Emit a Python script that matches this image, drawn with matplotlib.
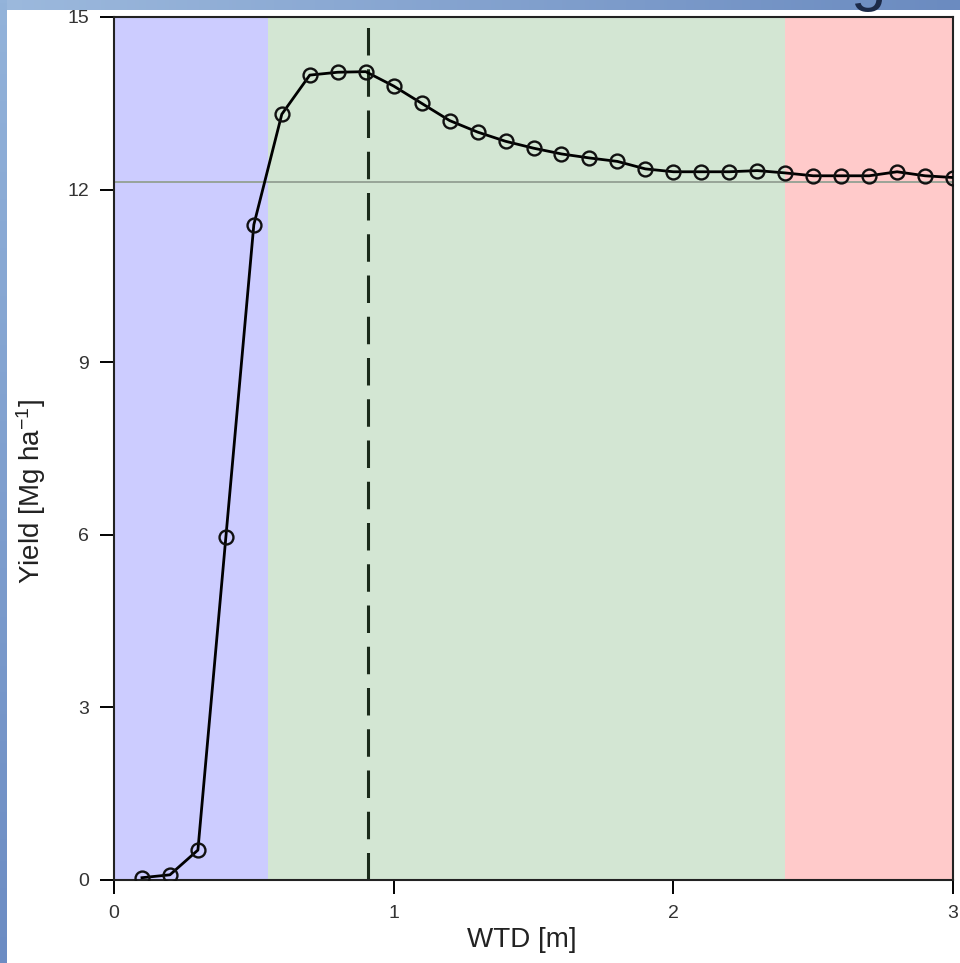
import numpy as np
import matplotlib
matplotlib.use("Agg")
import matplotlib.pyplot as plt
from matplotlib.patches import Rectangle
from matplotlib.colors import LinearSegmentedColormap

plt.rcParams['font.family'] = ['Liberation Sans', 'DejaVu Sans']
plt.rcParams['mathtext.fontset'] = 'custom'
plt.rcParams['mathtext.rm'] = 'Liberation Sans'
plt.rcParams['mathtext.it'] = 'Liberation Sans:italic'
plt.rcParams['mathtext.default'] = 'regular'

# Water table depth [m] and simulated yield [Mg/ha]
wtd = [0.1, 0.2, 0.3, 0.4, 0.5, 0.6, 0.7, 0.8, 0.9, 1.0,
       1.1, 1.2, 1.3, 1.4, 1.5, 1.6, 1.7, 1.8, 1.9, 2.0,
       2.1, 2.2, 2.3, 2.4, 2.5, 2.6, 2.7, 2.8, 2.9, 3.0]
yield_mg = [0.04, 0.09, 0.52, 5.96, 11.39, 13.31, 13.99, 14.04, 14.05, 13.80,
            13.50, 13.20, 13.00, 12.84, 12.72, 12.62, 12.55, 12.49, 12.36, 12.31,
            12.31, 12.31, 12.33, 12.29, 12.24, 12.24, 12.24, 12.31, 12.24, 12.21]

# Reference yield under free drainage and optimum depth
ref_yield = 12.13
opt_wtd = 0.91

# Depth zones: shallow (blue), favourable (green), deep (red)
zone_edges = [0.0, 0.55, 2.40, 3.0]
zone_colors = ['#ccccff', '#d3e6d3', '#ffcaca']

x_ticks = [0, 1, 2, 3]
y_ticks = [0, 3, 6, 9, 12, 15]

W, H, DPI = 960, 963, 100
fig = plt.figure(figsize=(W / DPI, H / DPI), dpi=DPI)

# slide frame: blue gradient band on top, darker strip on the left
bg = fig.add_axes([0, 0, 1, 1], zorder=-10)
bg.set_xlim(0, 1)
bg.set_ylim(0, 1)
bg.axis('off')
bg.add_patch(Rectangle((0, 0), 1, 1, facecolor='white', edgecolor='none'))
top_cmap = LinearSegmentedColormap.from_list('top', ['#9cb9dd', '#6b8bc0'])
bg.imshow(np.linspace(0, 1, 256)[None, :], cmap=top_cmap, aspect='auto',
          extent=[0, 1, 1 - 10 / H, 1], zorder=1)
left_cmap = LinearSegmentedColormap.from_list('left', ['#6c8cc3', '#93b3da'])
bg.imshow(np.linspace(0, 1, 256)[:, None], cmap=left_cmap, aspect='auto',
          origin='lower', extent=[0, 7 / W, 0, 1], zorder=1)
fig.text(868 / W, 1 + 1 / H, 'g', fontsize=46, color='#1c2a48',
         ha='center', va='baseline', family=['Liberation Sans'])

ax = fig.add_axes([114 / W, 1 - 880 / H, (953 - 114) / W, (880 - 17) / H])

for x0, x1, c in zip(zone_edges[:-1], zone_edges[1:], zone_colors):
    ax.axvspan(x0, x1, color=c, lw=0, zorder=0)

ax.axhline(ref_yield, color='#93a093', lw=1.3, zorder=1)
ax.axvline(opt_wtd, color='#1a2a1a', lw=2.2, dashes=(9, 4.5), zorder=2)

ax.plot(wtd, yield_mg, color='black', lw=2.0, marker='o', ms=10,
        mfc='none', mec='#111111', mew=1.7, zorder=3)

ax.set_xlim(0, 3)
ax.set_ylim(0, 15)
ax.set_xticks(x_ticks)
ax.set_yticks(y_ticks)
ax.tick_params(direction='out', length=10, width=1.4, labelsize=14,
               labelcolor='#333333', pad=8)
for s in ax.spines.values():
    s.set_linewidth(1.5)
    s.set_color('#222222')

ax.set_xlabel('WTD [m]', fontsize=20, color='#222222')
ax.set_ylabel('Yield [Mg ha$^{-1}$]', fontsize=20, color='#222222')
ax.xaxis.set_label_coords(0.486, -0.054)
ax.yaxis.set_label_coords(-0.079, 0.45)

fig.savefig('out.png', dpi=DPI)
